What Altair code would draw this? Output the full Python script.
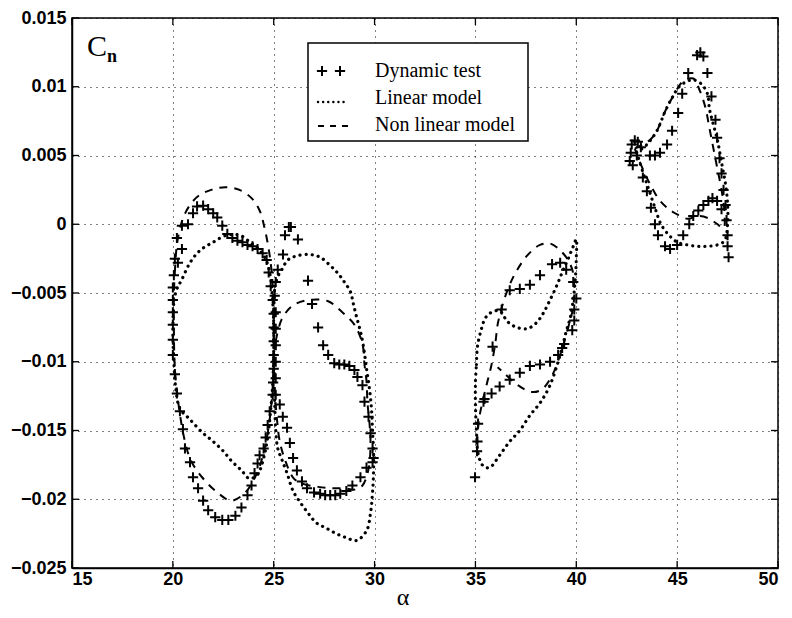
import altair as alt
import pandas as pd

# ---------------- data ----------------
X_TICKS = [15, 20, 25, 30, 35, 40, 45, 50]
Y_TICKS = [-0.025, -0.02, -0.015, -0.01, -0.005, 0, 0.005, 0.01, 0.015]

# Dynamic test (plus markers), four loops
DYN1_A = [21.5, 21.75, 22.0, 22.2, 22.45, 22.7, 22.95, 23.2, 23.45, 23.7, 23.95, 24.2, 24.45, 24.65, 24.75, 24.85, 24.95, 25.0, 25.0, 25.0, 25.0, 25.0, 24.97, 24.95, 24.8, 24.7, 24.6, 24.5, 24.3, 24.2, 24.05, 23.9, 23.7, 23.4, 23.1, 22.75, 22.45, 22.1, 21.75, 21.5, 21.25, 21.0, 20.85, 20.6, 20.5, 20.35, 20.2, 20.1, 20.0, 20.0, 20.0, 20.0, 20.0, 20.0, 20.05, 20.1, 20.25, 20.45, 20.2, 20.45, 20.75, 21.0, 21.2]
DYN1_C = [0.00135, 0.0011, 0.0008, 0.0005, -0.0001, -0.0007, -0.0010, -0.0012, -0.0013, -0.0015, -0.0016, -0.0018, -0.0021, -0.0026, -0.0035, -0.0045, -0.0055, -0.0065, -0.0075, -0.0085, -0.0095, -0.0105, -0.0115, -0.0124, -0.0136, -0.0146, -0.0155, -0.0163, -0.0168, -0.0174, -0.0181, -0.0190, -0.0197, -0.0206, -0.0212, -0.0215, -0.0215, -0.0213, -0.0208, -0.0201, -0.0192, -0.0184, -0.0173, -0.0163, -0.0149, -0.0136, -0.0123, -0.0109, -0.0095, -0.0084, -0.0073, -0.0064, -0.0055, -0.0046, -0.0037, -0.0025, -0.0028, -0.0018, -0.0010, -0.0001, 0.0000, 0.0008, 0.0013]

DYN2_A = [25.1, 25.1, 25.1, 25.1, 25.1, 25.1, 25.05, 25.1, 25.2, 25.46, 25.56, 25.75, 25.85, 26.2, 26.7, 26.9, 27.2, 27.45, 27.7, 28.0, 28.25, 28.5, 28.75, 29.0, 29.15, 29.4, 29.5, 29.7, 29.8, 29.9, 29.95, 29.9, 29.6, 29.3, 28.9, 28.6, 28.3, 28.05, 27.8, 27.55, 27.3, 27.0, 26.65, 26.4, 26.15, 25.96, 25.8, 25.66, 25.45, 25.3]
DYN2_C = [-0.0124, -0.0112, -0.0100, -0.0088, -0.0076, -0.0064, -0.0052, -0.0042, -0.0033, -0.0022, -0.0008, -0.0002, -0.0002, -0.0011, -0.0041, -0.0058, -0.0075, -0.0088, -0.0095, -0.0101, -0.0102, -0.0102, -0.0103, -0.0106, -0.0111, -0.0117, -0.0129, -0.0140, -0.0152, -0.0163, -0.0170, -0.0173, -0.0177, -0.0184, -0.0190, -0.0194, -0.0196, -0.0197, -0.0197, -0.0197, -0.0196, -0.0195, -0.0192, -0.0187, -0.0179, -0.0170, -0.0159, -0.0148, -0.0140, -0.0131]

DYN3_A = [34.98, 35.08, 35.1, 35.13, 35.4, 35.45, 35.8, 36.2, 36.7, 37.2, 37.7, 38.2, 38.7, 39.1, 39.3, 39.4, 39.8, 39.9, 39.9, 40.0, 39.85, 39.5, 39.2, 38.8, 38.2, 37.7, 37.2, 36.7, 36.3, 35.85]
DYN3_C = [-0.0184, -0.0165, -0.0158, -0.0145, -0.0129, -0.0127, -0.0123, -0.0118, -0.0113, -0.0108, -0.0103, -0.0102, -0.0100, -0.0095, -0.0090, -0.0087, -0.0077, -0.0070, -0.0062, -0.0054, -0.0042, -0.0033, -0.0028, -0.0029, -0.0037, -0.0044, -0.0047, -0.0048, -0.0062, -0.0089]

DYN4_A = [42.65, 42.7, 42.75, 42.9, 43.05, 43.2, 43.0, 42.8, 43.65, 43.9, 44.15, 44.5, 44.75, 45.05, 45.25, 45.55, 45.99, 46.15, 46.3, 46.5, 46.7, 46.9, 46.98, 47.1, 47.2, 47.3, 47.4, 47.45, 47.5, 47.5, 47.55, 47.2, 46.98, 46.75, 46.55, 46.3, 46.05, 45.8, 45.6, 45.3, 45.0, 44.65, 44.4, 44.05, 43.9, 43.7, 43.5, 43.3]
DYN4_C = [0.0046, 0.0052, 0.0058, 0.0061, 0.0060, 0.0056, 0.0050, 0.0043, 0.0050, 0.0050, 0.0052, 0.0058, 0.0068, 0.0081, 0.0095, 0.0110, 0.0123, 0.0125, 0.0122, 0.0110, 0.0093, 0.0076, 0.0063, 0.0048, 0.0037, 0.0025, 0.0014, 0.0003, -0.0008, -0.0016, -0.0024, 0.0011, 0.0017, 0.0019, 0.0017, 0.0014, 0.0010, 0.0006, 0.0000, -0.0008, -0.0015, -0.0018, -0.0016, -0.0008, 0.0000, 0.0012, 0.0024, 0.0034]

# Linear model (dotted)
LIN1_A = [20.05, 20.2, 20.45, 20.85, 21.35, 22.0, 22.67, 23.33, 23.82, 24.32, 24.65, 24.85, 24.95, 25.0, 25.0, 24.95, 24.85, 24.7, 24.5, 24.2, 23.8, 23.4, 22.9, 22.5, 22.0, 21.5, 20.85, 20.35, 20.15, 20.05, 20.0, 20.05]
LIN1_C = [-0.0055, -0.0047, -0.0040, -0.0028, -0.0019, -0.0013, -0.0008, -0.0008, -0.0013, -0.0019, -0.0027, -0.0040, -0.0055, -0.0075, -0.0095, -0.0115, -0.0135, -0.0155, -0.0170, -0.0182, -0.0185, -0.0179, -0.0172, -0.0165, -0.0158, -0.0152, -0.0142, -0.0134, -0.0120, -0.0100, -0.0078, -0.0055]

LIN2_A = [25.05, 25.2, 25.4, 25.7, 26.15, 26.8, 27.3, 27.8, 28.2, 28.5, 28.8, 28.95, 29.1, 29.3, 29.45, 29.6, 29.75, 29.85, 29.9, 29.95, 29.95, 29.9, 29.8, 29.6, 29.1, 28.6, 28.1, 27.6, 27.1, 26.7, 26.3, 25.96, 25.66, 25.4, 25.2, 25.1, 25.05, 25.0, 25.0, 25.0, 25.05]
LIN2_C = [-0.0045, -0.0038, -0.0033, -0.0026, -0.0023, -0.0022, -0.0024, -0.0030, -0.0036, -0.0042, -0.0049, -0.0058, -0.0067, -0.0078, -0.0089, -0.0105, -0.0120, -0.0135, -0.0150, -0.0165, -0.0180, -0.0195, -0.0210, -0.0223, -0.0230, -0.0228, -0.0225, -0.0221, -0.0217, -0.0210, -0.0202, -0.0194, -0.0181, -0.0171, -0.0163, -0.0150, -0.0130, -0.0110, -0.0090, -0.0065, -0.0045]

LIN3_A = [35.05, 35.1, 35.3, 35.5, 35.8, 36.2, 36.6, 37.05, 37.55, 38.0, 38.35, 38.7, 39.05, 39.3, 39.6, 39.85, 40.0, 40.0, 39.95, 39.85, 39.7, 39.5, 39.2, 38.7, 38.2, 37.7, 37.2, 36.7, 36.2, 35.7, 35.4, 35.15, 35.05, 35.0, 35.0, 35.05]
LIN3_C = [-0.0102, -0.0089, -0.0076, -0.0068, -0.0064, -0.0063, -0.0071, -0.0075, -0.0076, -0.0072, -0.0065, -0.0055, -0.0044, -0.0035, -0.0025, -0.0016, -0.0011, -0.0025, -0.0040, -0.0055, -0.0068, -0.0078, -0.0095, -0.0117, -0.0130, -0.0139, -0.0150, -0.0158, -0.0168, -0.0177, -0.0176, -0.0168, -0.0150, -0.0130, -0.0115, -0.0102]

LIN4_A = [43.0, 43.5, 44.0, 44.4, 44.75, 45.1, 45.5, 45.8, 46.2, 46.5, 46.6, 46.75, 47.0, 47.2, 47.4, 47.5, 47.5, 47.35, 47.0, 46.5, 46.0, 45.5, 45.0, 44.6, 44.2, 43.9, 43.6, 43.3, 43.0]
LIN4_C = [0.0052, 0.0058, 0.0068, 0.0082, 0.0092, 0.0100, 0.0104, 0.0105, 0.0102, 0.0095, 0.0084, 0.0075, 0.0061, 0.0045, 0.0029, 0.0015, 0.0000, -0.0012, -0.0015, -0.0016, -0.0016, -0.0015, -0.0013, -0.0008, 0.0000, 0.0012, 0.0025, 0.0038, 0.0052]

# Non linear model (dashed)
NL1_A = [20.1, 20.2, 20.45, 20.8, 21.3, 21.9, 22.6, 23.3, 23.9, 24.3, 24.55, 24.75, 24.9, 25.0, 25.0, 24.95, 24.8, 24.55, 24.2, 23.6, 22.9, 22.2, 21.45, 20.9, 20.6, 20.3, 20.1, 20.05, 20.05, 20.1]
NL1_C = [-0.0035, -0.0015, 0.0002, 0.0013, 0.0021, 0.0025, 0.0027, 0.0025, 0.0019, 0.0010, -0.0003, -0.0018, -0.0035, -0.0060, -0.0090, -0.0118, -0.0142, -0.0163, -0.0180, -0.0195, -0.0201, -0.0195, -0.0184, -0.0172, -0.0158, -0.0133, -0.0105, -0.0075, -0.0050, -0.0035]

NL2_A = [25.1, 25.4, 25.96, 26.8, 27.7, 28.4, 29.0, 29.4, 29.5, 29.6, 29.65, 29.75, 29.8, 29.7, 29.4, 29.0, 28.5, 27.9, 27.2, 26.5, 26.0, 25.6, 25.3, 25.15, 25.05, 25.05, 25.1]
NL2_C = [-0.0085, -0.0069, -0.0059, -0.0055, -0.0056, -0.0064, -0.0073, -0.0087, -0.0102, -0.0114, -0.0130, -0.0145, -0.0160, -0.0178, -0.0190, -0.0193, -0.0192, -0.0192, -0.0191, -0.0189, -0.0185, -0.0173, -0.0158, -0.0140, -0.0120, -0.0100, -0.0085]

NL3_A = [35.05, 35.2, 35.4, 35.6, 35.8, 36.0, 36.1, 36.4, 36.7, 37.0, 37.55, 38.2, 38.7, 39.05, 39.5, 39.8, 39.9, 39.85, 39.6, 39.2, 38.8, 38.3, 37.8, 37.1, 36.4, 36.1]
NL3_C = [-0.0160, -0.0140, -0.0126, -0.0114, -0.0102, -0.0085, -0.0073, -0.0056, -0.0044, -0.0035, -0.0023, -0.0015, -0.0014, -0.0017, -0.0024, -0.0033, -0.0045, -0.0060, -0.0075, -0.0095, -0.0110, -0.0120, -0.0122, -0.0117, -0.0108, -0.0104]

NL4_A = [42.9, 43.3, 43.7, 44.0, 44.4, 44.8, 45.3, 45.8, 46.1, 46.4, 46.6, 46.8, 47.0, 47.2, 47.35, 47.3, 47.0, 46.6, 46.1, 45.5, 44.9, 44.5, 44.1, 43.7, 43.3, 42.9]
NL4_C = [0.0055, 0.0058, 0.0062, 0.0068, 0.0082, 0.0093, 0.0104, 0.0106, 0.0098, 0.0085, 0.0070, 0.0055, 0.0040, 0.0025, 0.0008, -0.0003, 0.0000, 0.0004, 0.0006, 0.0004, 0.0008, 0.0012, 0.0018, 0.0028, 0.0040, 0.0055]


def long_table(loops):
    rows = []
    for k, (a_list, c_list) in enumerate(loops):
        for i, (a, c) in enumerate(zip(a_list, c_list)):
            rows.append({"alpha": a, "cn": c, "loop": k, "idx": i})
    return pd.DataFrame(rows)


dyn_df = long_table([(DYN1_A, DYN1_C), (DYN2_A, DYN2_C), (DYN3_A, DYN3_C), (DYN4_A, DYN4_C)])
lin_df = long_table([(LIN1_A, LIN1_C), (LIN2_A, LIN2_C), (LIN3_A, LIN3_C), (LIN4_A, LIN4_C)])
nl_df = long_table([(NL1_A, NL1_C), (NL2_A, NL2_C), (NL3_A, NL3_C), (NL4_A, NL4_C)])

W, H = 706, 550
TOP = 10
BOTTOM = 42
SANS = "Liberation Sans"
SERIF = "Liberation Serif"
PLUS = "M-1,0L1,0M0,-1L0,1"

x_enc = alt.X(
    "alpha:Q",
    scale=alt.Scale(domain=[15, 50], nice=False, zero=False),
    axis=alt.Axis(
        values=X_TICKS, format="d", title=None,
        labelFont=SANS, labelFontSize=18, labelFontWeight="bold", labelColor="black",
        labelPadding=2, ticks=False,
        grid=True, gridDash=[1, 5], gridColor="black", gridOpacity=1, gridWidth=1,
        domainColor="black", domainWidth=1.5,
    ),
)
y_enc = alt.Y(
    "cn:Q",
    scale=alt.Scale(domain=[-0.025, 0.015], nice=False, zero=False),
    axis=alt.Axis(
        values=Y_TICKS, format="~g", title=None,
        labelFont=SANS, labelFontSize=18, labelFontWeight="bold", labelColor="black",
        labelPadding=6, ticks=False,
        grid=True, gridDash=[1, 5], gridColor="black", gridOpacity=1, gridWidth=1,
        domainColor="black", domainWidth=1.5,
    ),
)

lin_layer = alt.Chart(lin_df).mark_line(
    color="black", strokeWidth=3.2, strokeDash=[0.1, 6], strokeCap="round",
    interpolate="catmull-rom",
).encode(x=x_enc, y=y_enc, detail="loop:N", order="idx:Q")

nl_layer = alt.Chart(nl_df).mark_line(
    color="black", strokeWidth=2, strokeDash=[8, 7],
    interpolate="catmull-rom",
).encode(x="alpha:Q", y="cn:Q", detail="loop:N", order="idx:Q")

dyn_layer = alt.Chart(dyn_df).mark_point(
    shape=PLUS, size=105, filled=False, color="black", strokeWidth=2, opacity=1,
).encode(x="alpha:Q", y="cn:Q")

# inward frame ticks
xt = pd.DataFrame({"alpha": X_TICKS})
yt = pd.DataFrame({"cn": Y_TICKS})
tick_b = alt.Chart(xt).mark_rule(color="black", strokeWidth=1.3).encode(
    x="alpha:Q", y=alt.value(H), y2=alt.value(H - 7))
tick_t = alt.Chart(xt).mark_rule(color="black", strokeWidth=1.3).encode(
    x="alpha:Q", y=alt.value(0), y2=alt.value(7))
tick_l = alt.Chart(yt).mark_rule(color="black", strokeWidth=1.3).encode(
    y="cn:Q", x=alt.value(0), x2=alt.value(7))
tick_r = alt.Chart(yt).mark_rule(color="black", strokeWidth=1.3).encode(
    y="cn:Q", x=alt.value(W), x2=alt.value(W - 7))

one = pd.DataFrame({"k": [0]})

# x axis title (alpha)
a_txt = alt.Chart(one).mark_text(font=SERIF, fontSize=24, align="center", baseline="middle",
                                 color="black").encode(
    x=alt.value(W / 2 - 22), y=alt.value(H + 30), text=alt.value("α"))

# C_n label
c_txt = alt.Chart(one).mark_text(font=SERIF, fontSize=30, align="left", baseline="alphabetic",
                                 color="black").encode(
    x=alt.value(15), y=alt.value(38), text=alt.value("C"))
n_txt = alt.Chart(one).mark_text(font=SERIF, fontSize=18, align="left", baseline="alphabetic",
                                 color="black", fontWeight="bold").encode(
    x=alt.value(35), y=alt.value(44), text=alt.value("n"))

# legend box
LEG_X0, LEG_X1, LEG_Y0, LEG_Y1 = 236, 456, 25, 123
leg_box = alt.Chart(one).mark_rect(fill="white", stroke="black", strokeWidth=1.5).encode(
    x=alt.value(LEG_X0), x2=alt.value(LEG_X1), y=alt.value(LEG_Y0), y2=alt.value(LEG_Y1))
leg_labels = pd.DataFrame({
    "label": ["Dynamic test", "Linear model", "Non linear model"],
    "ypos": [53, 80, 107],
})
leg_text = alt.Chart(leg_labels).mark_text(font=SERIF, fontSize=20, align="left",
                                           baseline="middle", color="black").encode(
    x=alt.value(303), y=alt.Y("ypos:Q", scale=None), text="label:N")
leg_plus = alt.Chart(pd.DataFrame({"px": [250, 268]})).mark_point(
    shape=PLUS, size=105, filled=False, color="black", strokeWidth=2, opacity=1).encode(
    x=alt.X("px:Q", scale=None), y=alt.value(53))
leg_dot = alt.Chart(one).mark_rule(color="black", strokeWidth=2.4, strokeDash=[0.1, 5],
                                   strokeCap="round").encode(
    x=alt.value(246), x2=alt.value(276), y=alt.value(84))
leg_dash = alt.Chart(one).mark_rule(color="black", strokeWidth=2, strokeDash=[6, 6]).encode(
    x=alt.value(246), x2=alt.value(278), y=alt.value(108))

chart = alt.layer(
    lin_layer, nl_layer, dyn_layer, tick_b, tick_t, tick_l, tick_r,
    a_txt, c_txt, n_txt, leg_box, leg_text, leg_plus, leg_dot, leg_dash,
).properties(
    width=W, height=H,
    padding={"left": 64, "top": TOP, "right": 6, "bottom": BOTTOM},
    autosize="none",
    background="white",
).configure_view(stroke="black", strokeWidth=1.5)

chart.save("out.html", embed_options={"renderer": "svg", "actions": False})
